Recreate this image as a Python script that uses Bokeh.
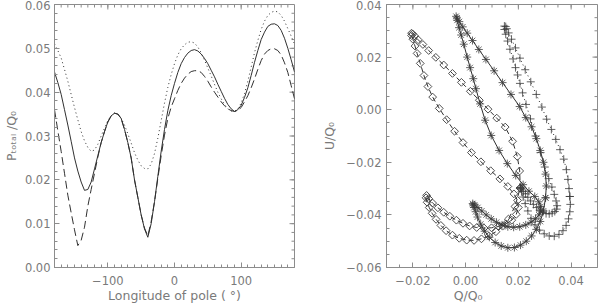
import math
import numpy as np
from bokeh.plotting import figure
from bokeh.models import Range1d, SingleIntervalTicker, CustomJSTickFormatter
from bokeh.layouts import row
from bokeh.embed import file_html
from bokeh.resources import INLINE

# ---------------- data ----------------
lon = list(range(-180, 181, 5))

p_solid = [
    0.0446, 0.0422, 0.0395, 0.0360, 0.0325, 0.0288, 0.0250, 0.0220, 0.0195,
    0.0176, 0.0178, 0.0195, 0.0225, 0.0255, 0.0285, 0.0310, 0.0332, 0.0346,
    0.0352, 0.0350, 0.0340, 0.0315, 0.0285, 0.0250, 0.0200, 0.0160, 0.0120,
    0.0088, 0.0069, 0.0100, 0.0150, 0.0208, 0.0265, 0.0315, 0.0358, 0.0392,
    0.0420, 0.0445, 0.0465, 0.0479, 0.0489, 0.0495, 0.0497, 0.0494, 0.0487,
    0.0477, 0.0465, 0.0450, 0.0435, 0.0418, 0.0402, 0.0386, 0.0372, 0.0362,
    0.0356, 0.0360, 0.0370, 0.0388, 0.0410, 0.0438, 0.0468, 0.0495, 0.0520,
    0.0537, 0.0550, 0.0555, 0.0556, 0.0552, 0.0541, 0.0523, 0.0500, 0.0474,
    0.0446]

p_dashed = [
    0.0360, 0.0312, 0.0265, 0.0215, 0.0165, 0.0125, 0.0086, 0.0050, 0.0062,
    0.0092, 0.0140, 0.0178, 0.0215, 0.0252, 0.0285, 0.0310, 0.0332, 0.0346,
    0.0352, 0.0350, 0.0340, 0.0315, 0.0285, 0.0250, 0.0200, 0.0160, 0.0120,
    0.0090, 0.0072, 0.0105, 0.0150, 0.0203, 0.0255, 0.0302, 0.0340, 0.0366,
    0.0385, 0.0404, 0.0420, 0.0432, 0.0441, 0.0447, 0.0449, 0.0449, 0.0445,
    0.0436, 0.0425, 0.0412, 0.0400, 0.0389, 0.0378, 0.0369, 0.0362, 0.0358,
    0.0356, 0.0358, 0.0365, 0.0378, 0.0392, 0.0410, 0.0430, 0.0452, 0.0472,
    0.0487, 0.0495, 0.0499, 0.0499, 0.0495, 0.0485, 0.0467, 0.0445, 0.0415,
    0.0385]

p_dotted = [
    0.0510, 0.0495, 0.0478, 0.0452, 0.0425, 0.0395, 0.0365, 0.0337, 0.0310,
    0.0289, 0.0274, 0.0265, 0.0268, 0.0281, 0.0300, 0.0318, 0.0335, 0.0346,
    0.0352, 0.0350, 0.0340, 0.0325, 0.0305, 0.0284, 0.0262, 0.0245, 0.0232,
    0.0226, 0.0225, 0.0236, 0.0260, 0.0295, 0.0335, 0.0375, 0.0411, 0.0440,
    0.0465, 0.0485, 0.0499, 0.0508, 0.0514, 0.0515, 0.0512, 0.0503, 0.0490,
    0.0473, 0.0455, 0.0437, 0.0418, 0.0400, 0.0385, 0.0372, 0.0362, 0.0357,
    0.0356, 0.0362, 0.0375, 0.0397, 0.0425, 0.0457, 0.0490, 0.0518, 0.0543,
    0.0562, 0.0575, 0.0582, 0.0585, 0.0583, 0.0575, 0.0562, 0.0545, 0.0528,
    0.0510]

# Q/U loops (same longitudes)
q_ast = [
    0.0303, 0.0306, 0.0303, 0.0295, 0.0283, 0.0268, 0.0250, 0.0228, 0.0205,
    0.0172, 0.0140, 0.0108, 0.0077, 0.0050, 0.0026, 0.0006, -0.0011, -0.0024,
    -0.0033, -0.0036, -0.0032, -0.0025, -0.0017, -0.0007, 0.0006, 0.0017, 0.0029,
    0.0039, 0.0055, 0.0074, 0.0097, 0.0127, 0.0158, 0.0190, 0.0218, 0.0240,
    0.0262, 0.0277, 0.0285, 0.0285, 0.0278, 0.0265, 0.0248, 0.0228, 0.0205,
    0.0182, 0.0160, 0.0138, 0.0117, 0.0097, 0.0078, 0.0061, 0.0046, 0.0034,
    0.0027, 0.0028, 0.0032, 0.0038, 0.0045, 0.0057, 0.0072, 0.0090, 0.0112,
    0.0135, 0.0160, 0.0185, 0.0208, 0.0230, 0.0250, 0.0268, 0.0283, 0.0295,
    0.0303]
u_ast = [
    -0.0335, -0.0290, -0.0245, -0.0200, -0.0155, -0.0110, -0.0065, -0.0030, 0.0012,
    0.0058, 0.0103, 0.0148, 0.0191, 0.0229, 0.0263, 0.0291, 0.0315, 0.0335,
    0.0349, 0.0355, 0.0340, 0.0312, 0.0284, 0.0249, 0.0200, 0.0160, 0.0118,
    0.0080, 0.0022, -0.0040, -0.0098, -0.0155, -0.0205, -0.0250, -0.0285, -0.0310,
    -0.0330, -0.0350, -0.0368, -0.0385, -0.0400, -0.0415, -0.0428, -0.0438, -0.0445,
    -0.0447, -0.0445, -0.0438, -0.0428, -0.0415, -0.0400, -0.0385, -0.0372, -0.0362,
    -0.0357, -0.0362, -0.0372, -0.0388, -0.0408, -0.0435, -0.0462, -0.0485, -0.0505,
    -0.0518, -0.0525, -0.0524, -0.0515, -0.0500, -0.0480, -0.0455, -0.0425, -0.0385,
    -0.0335]

q_plus = [
    0.0395, 0.0392, 0.0388, 0.0382, 0.0372, 0.0358, 0.0342, 0.0325, 0.0307,
    0.0289, 0.0268, 0.0247, 0.0226, 0.0206, 0.0189, 0.0174, 0.0163, 0.0156,
    0.0152, 0.0147, 0.0147, 0.0152, 0.0159, 0.0168, 0.0180, 0.0189, 0.0197,
    0.0206, 0.0216, 0.0229, 0.0246, 0.0265, 0.0284, 0.0300, 0.0315, 0.0327,
    0.0336, 0.0343, 0.0347, 0.0345, 0.0338, 0.0328, 0.0317, 0.0305, 0.0293,
    0.0281, 0.0269, 0.0257, 0.0246, 0.0236, 0.0227, 0.0219, 0.0213, 0.0209,
    0.0207, 0.0208, 0.0212, 0.0218, 0.0226, 0.0236, 0.0248, 0.0263, 0.0280,
    0.0298, 0.0317, 0.0336, 0.0354, 0.0369, 0.0381, 0.0390, 0.0395, 0.0397,
    0.0395]
u_plus = [
    -0.0330, -0.0300, -0.0265, -0.0228, -0.0188, -0.0152, -0.0113, -0.0075, -0.0036,
    0.0010, 0.0058, 0.0106, 0.0152, 0.0196, 0.0235, 0.0268, 0.0292, 0.0308,
    0.0316, 0.0318, 0.0305, 0.0287, 0.0261, 0.0230, 0.0193, 0.0160, 0.0132,
    0.0100, 0.0064, 0.0020, -0.0035, -0.0100, -0.0163, -0.0218, -0.0262, -0.0294,
    -0.0322, -0.0347, -0.0365, -0.0378, -0.0387, -0.0393, -0.0396, -0.0395, -0.0390,
    -0.0382, -0.0372, -0.0360, -0.0347, -0.0333, -0.0320, -0.0310, -0.0302, -0.0297,
    -0.0296, -0.0300, -0.0312, -0.0332, -0.0357, -0.0385, -0.0413, -0.0438, -0.0458,
    -0.0472, -0.0480, -0.0481, -0.0474, -0.0460, -0.0440, -0.0415, -0.0388, -0.0360,
    -0.0330]

q_diam = [
    0.0207, 0.0205, 0.0196, 0.0178, 0.0150, 0.0118, 0.0085, 0.0052, 0.0018,
    -0.0016, -0.0050, -0.0083, -0.0113, -0.0140, -0.0162, -0.0180, -0.0193, -0.0201,
    -0.0205, -0.0205, -0.0200, -0.0192, -0.0184, -0.0172, -0.0158, -0.0143, -0.0125,
    -0.0100, -0.0072, -0.0042, -0.0010, 0.0022, 0.0058, 0.0095, 0.0130, 0.0160,
    0.0183, 0.0197, 0.0200, 0.0192, 0.0175, 0.0152, 0.0125, 0.0098, 0.0070,
    0.0042, 0.0015, -0.0010, -0.0035, -0.0060, -0.0083, -0.0105, -0.0125, -0.0140,
    -0.0148, -0.0150, -0.0146, -0.0138, -0.0127, -0.0112, -0.0094, -0.0074, -0.0050,
    -0.0024, 0.0004, 0.0032, 0.0060, 0.0088, 0.0115, 0.0140, 0.0162, 0.0187,
    0.0207]
u_diam = [
    -0.0298, -0.0233, -0.0178, -0.0120, -0.0066, -0.0032, 0.0002, 0.0036, 0.0070,
    0.0104, 0.0138, 0.0170, 0.0199, 0.0225, 0.0248, 0.0266, 0.0280, 0.0288,
    0.0291, 0.0282, 0.0268, 0.0242, 0.0214, 0.0176, 0.0130, 0.0088, 0.0048,
    0.0005, -0.0038, -0.0082, -0.0125, -0.0163, -0.0198, -0.0232, -0.0263, -0.0292,
    -0.0320, -0.0345, -0.0372, -0.0398, -0.0420, -0.0434, -0.0444, -0.0449, -0.0450,
    -0.0448, -0.0442, -0.0432, -0.0420, -0.0405, -0.0390, -0.0373, -0.0355, -0.0338,
    -0.0326, -0.0335, -0.0352, -0.0372, -0.0394, -0.0417, -0.0440, -0.0460, -0.0477,
    -0.0489, -0.0496, -0.0497, -0.0491, -0.0480, -0.0464, -0.0443, -0.0416, -0.0368,
    -0.0298]

# ---------------- style ----------------
FONT = "DejaVu Sans"
TXT = "#7a7a7a"
AXC = "#8c8c8c"
INK = "#303030"
MK = "#3c3c3c"
H = 306
W = 300
MB_TOP = 4
MB_BOT = 39
FRAME_H = H - MB_TOP - MB_BOT


def fmt(dec):
    return CustomJSTickFormatter(code="""
const v = Math.abs(tick) < 1e-9 ? 0 : tick;
return (v < 0 ? "\\u2212" : "") + Math.abs(v).toFixed(%d);
""" % dec)


def style(ax, interval, nminor, dec, label, tick_standoff, label_standoff):
    ax.ticker = SingleIntervalTicker(interval=interval, num_minor_ticks=nminor)
    ax.formatter = fmt(dec)
    ax.axis_line_color = AXC
    ax.major_tick_line_color = AXC
    ax.minor_tick_line_color = AXC
    ax.major_tick_in = 5
    ax.major_tick_out = 0
    ax.minor_tick_in = 3
    ax.minor_tick_out = 0
    ax.major_label_text_font = FONT
    ax.major_label_text_color = TXT
    ax.major_label_text_font_size = "11.5px"
    ax.major_label_standoff = tick_standoff
    ax.axis_label = label
    ax.axis_label_text_font = FONT
    ax.axis_label_text_font_size = "12.5px"
    ax.axis_label_text_font_style = "normal"
    ax.axis_label_text_color = TXT
    ax.axis_label_standoff = label_standoff


def base(xr, yr, mbl, mbr):
    p = figure(width=W, height=H, x_range=xr, y_range=yr,
               output_backend="svg", toolbar_location=None,
               min_border_left=mbl, min_border_right=mbr,
               min_border_top=MB_TOP, min_border_bottom=MB_BOT)
    p.xgrid.visible = False
    p.ygrid.visible = False
    p.outline_line_color = AXC
    p.background_fill_color = "white"
    p.border_fill_color = "white"
    return p


def frame_ticks(p, x0, x1, y0, y1, fw, fh, xmaj, xmin, ymaj, ymin):
    """inward ticks along the top and right edges of the frame"""
    dx = (x1 - x0) / fw
    dy = (y1 - y0) / fh
    for xs, ln in ((xmaj, 5), (xmin, 3)):
        p.segment(x0=xs, y0=[y1] * len(xs), x1=xs, y1=[y1 - ln * dy] * len(xs),
                  line_color=AXC, line_width=1)
    for ys, ln in ((ymaj, 5), (ymin, 3)):
        p.segment(x0=[x1] * len(ys), y0=ys, x1=[x1 - ln * dx] * len(ys), y1=ys,
                  line_color=AXC, line_width=1)


# ---------------- left panel ----------------
L_MBL, L_MBR = 53, 6
left = base(Range1d(-180, 180), Range1d(0, 0.06), L_MBL, L_MBR)
style(left.xaxis[0], 100, 10, 0, "Longitude of pole ( °)", 8, 0)
style(left.yaxis[0], 0.01, 5, 2, "Pₜₒₜₐₗ /Q₀", 4, 3)
frame_ticks(left, -180, 180, 0, 0.06, W - L_MBL - L_MBR, FRAME_H,
            list(np.arange(-100, 101, 100)), list(np.arange(-170, 171, 10)),
            list(np.arange(0.01, 0.06, 0.01)), list(np.arange(0.002, 0.06, 0.002)))

left.line(lon, p_solid, line_color=INK, line_width=1)
left.line(lon, p_dashed, line_color=INK, line_width=1, line_dash="8 4")
left.line(lon, p_dotted, line_color=INK, line_width=1, line_dash="1 3")

# ---------------- right panel ----------------
R_MBL, R_MBR = 86, 3
right = base(Range1d(-0.03, 0.05), Range1d(-0.06, 0.04), R_MBL, R_MBR)
# label is centred left of the frame centre in the original: pad with no-break spaces
style(right.xaxis[0], 0.02, 4, 2, "Q/Q₀" + "\u00a0" * 12, 8, 0)
style(right.yaxis[0], 0.02, 4, 2, "U/Q₀", 5, 6)
frame_ticks(right, -0.03, 0.05, -0.06, 0.04, W - R_MBL - R_MBR, FRAME_H,
            list(np.arange(-0.02, 0.041, 0.02)), list(np.arange(-0.025, 0.05, 0.005)),
            list(np.arange(-0.04, 0.041, 0.02)), list(np.arange(-0.055, 0.04, 0.005)))

right.line(q_diam, u_diam, line_color=INK, line_width=1, line_dash="5 3")
right.scatter(q_diam, u_diam, marker="square", angle=math.pi / 4, size=5.5,
              fill_color=None, line_color=MK, line_width=0.9)
right.line(q_ast, u_ast, line_color=INK, line_width=1)
right.scatter(q_ast, u_ast, marker="asterisk", size=8, line_color=MK, line_width=0.8)
right.line(q_plus, u_plus, line_color=INK, line_width=1, line_dash="1 3")
right.scatter(q_plus, u_plus, marker="cross", size=8, line_color=MK, line_width=0.8)

layout = row(left, right)
open("out.html", "w").write(file_html(layout, INLINE, "chart"))
